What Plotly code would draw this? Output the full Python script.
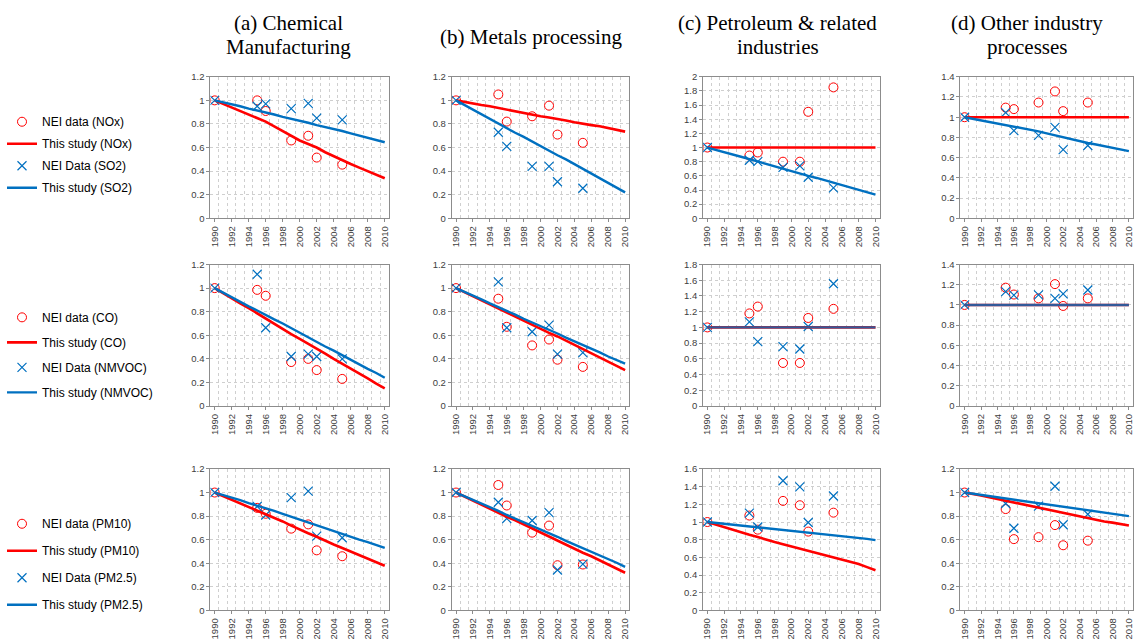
import plotly.graph_objects as go
from plotly.subplots import make_subplots

W, H = 1138, 644

years = list(range(1990, 2011))
nei_years = [1990, 1995, 1996, 1999, 2001, 2002, 2005]
tick_years = list(range(1990, 2011, 2))

col_titles = [["(a) Chemical", "Manufacturing"], ["(b) Metals processing"],
              ["(c) Petroleum & related", "industries"], ["(d) Other industry", "processes"]]

# Row 1: NOx (red) / SO2 (blue)
chem_nox_nei = [1.0, 1.0, 0.91, 0.66, 0.70, 0.515, 0.455]
chem_so2_nei = [1.0, 0.95, 0.97, 0.93, 0.975, 0.85, 0.835]
chem_nox_study = [1.0, 0.97, 0.94, 0.91, 0.88, 0.85, 0.82, 0.78, 0.74, 0.70, 0.66,
                  0.63, 0.60, 0.56, 0.525, 0.49, 0.46, 0.43, 0.40, 0.37, 0.34]
chem_so2_study = [1.0, 0.985, 0.97, 0.95, 0.93, 0.915, 0.90, 0.88, 0.86, 0.845, 0.83,
                  0.81, 0.79, 0.775, 0.76, 0.74, 0.72, 0.70, 0.685, 0.665, 0.645]

metal_nox_nei = [1.0, 1.05, 0.82, 0.865, 0.955, 0.71, 0.64]
metal_so2_nei = [1.0, 0.73, 0.61, 0.44, 0.44, 0.31, 0.255]
metal_nox_study = [1.0, 0.985, 0.97, 0.96, 0.95, 0.935, 0.92, 0.91, 0.895, 0.88, 0.865,
                   0.855, 0.845, 0.83, 0.815, 0.80, 0.79, 0.78, 0.765, 0.75, 0.735]
metal_so2_study = [1.0, 0.96, 0.92, 0.885, 0.845, 0.805, 0.765, 0.725, 0.69, 0.65, 0.61,
                   0.575, 0.535, 0.50, 0.46, 0.42, 0.385, 0.345, 0.305, 0.265, 0.22]

petro_nox_nei = [1.0, 0.887, 0.93, 0.80, 0.80, 1.505, 1.85]
petro_so2_nei = [1.0, 0.82, 0.80, 0.72, 0.74, 0.58, 0.43]
petro_nox_study = [1.0] * 21
petro_so2_study = [1.0, 0.97, 0.935, 0.90, 0.87, 0.835, 0.80, 0.77, 0.735, 0.70, 0.67,
                   0.635, 0.60, 0.57, 0.535, 0.50, 0.47, 0.435, 0.40, 0.37, 0.335]

other_nox_nei = [1.0, 1.095, 1.08, 1.145, 1.255, 1.06, 1.145]
other_so2_nei = [1.0, 1.045, 0.867, 0.82, 0.90, 0.68, 0.72]
other_nox_study = [1.0] * 21
other_so2_study = [1.0, 0.985, 0.97, 0.955, 0.94, 0.925, 0.91, 0.895, 0.875, 0.86, 0.84,
                   0.82, 0.80, 0.785, 0.765, 0.745, 0.73, 0.715, 0.695, 0.68, 0.665]

# Row 2: CO (red) / NMVOC (blue)
chem_co_nei = [1.0, 0.985, 0.935, 0.373, 0.40, 0.305, 0.23]
chem_voc_nei = [1.0, 1.117, 0.664, 0.42, 0.44, 0.42, 0.40]
chem_co_study = [1.0, 0.955, 0.91, 0.87, 0.83, 0.785, 0.745, 0.70, 0.655, 0.61, 0.57,
                 0.53, 0.49, 0.445, 0.40, 0.36, 0.315, 0.275, 0.235, 0.19, 0.15]
chem_voc_study = [1.0, 0.96, 0.92, 0.88, 0.845, 0.81, 0.77, 0.735, 0.70, 0.66, 0.62,
                  0.585, 0.545, 0.505, 0.47, 0.43, 0.39, 0.355, 0.315, 0.28, 0.24]

metal_co_nei = [1.0, 0.91, 0.672, 0.514, 0.564, 0.393, 0.332]
metal_voc_nei = [1.0, 1.053, 0.664, 0.63, 0.686, 0.44, 0.453]
metal_co_study = [1.0, 0.965, 0.93, 0.895, 0.86, 0.825, 0.79, 0.76, 0.725, 0.69, 0.655,
                  0.62, 0.59, 0.555, 0.52, 0.485, 0.45, 0.415, 0.38, 0.345, 0.305]
metal_voc_study = [1.0, 0.97, 0.935, 0.905, 0.87, 0.84, 0.805, 0.775, 0.74, 0.71, 0.675,
                   0.645, 0.615, 0.58, 0.55, 0.515, 0.485, 0.455, 0.42, 0.39, 0.36]

petro_co_nei = [1.0, 1.178, 1.265, 0.548, 0.548, 1.12, 1.236]
petro_voc_nei = [1.0, 1.07, 0.82, 0.755, 0.726, 1.012, 1.555]
petro_co_study = [1.0] * 21
petro_voc_study = [1.0] * 21

other_co_nei = [1.0, 1.171, 1.103, 1.065, 1.206, 0.99, 1.065]
other_voc_nei = [1.0, 1.132, 1.097, 1.10, 1.065, 1.11, 1.148]
other_co_study = [1.0] * 21
other_voc_study = [1.0] * 21

# Row 3: PM10 (red) / PM2.5 (blue)
chem_pm10_nei = [1.0, 0.87, 0.82, 0.694, 0.73, 0.51, 0.46]
chem_pm25_nei = [1.0, 0.882, 0.81, 0.957, 1.012, 0.63, 0.617]
chem_pm10_study = [1.0, 0.97, 0.94, 0.91, 0.88, 0.85, 0.82, 0.79, 0.755, 0.72, 0.685,
                   0.655, 0.625, 0.59, 0.56, 0.53, 0.50, 0.47, 0.44, 0.41, 0.38]
chem_pm25_study = [1.0, 0.98, 0.96, 0.935, 0.91, 0.89, 0.87, 0.845, 0.82, 0.795, 0.77,
                   0.745, 0.72, 0.695, 0.67, 0.65, 0.625, 0.60, 0.58, 0.555, 0.53]

metal_pm10_nei = [1.0, 1.064, 0.89, 0.66, 0.72, 0.384, 0.39]
metal_pm25_nei = [1.0, 0.918, 0.78, 0.763, 0.83, 0.343, 0.393]
metal_pm10_study = [1.0, 0.965, 0.93, 0.90, 0.865, 0.83, 0.795, 0.765, 0.73, 0.695, 0.66,
                    0.625, 0.595, 0.56, 0.525, 0.49, 0.46, 0.425, 0.39, 0.355, 0.32]
metal_pm25_study = [1.0, 0.97, 0.94, 0.905, 0.875, 0.845, 0.81, 0.78, 0.75, 0.72, 0.685,
                    0.655, 0.625, 0.59, 0.56, 0.53, 0.50, 0.465, 0.435, 0.405, 0.37]

petro_pm10_nei = [1.0, 1.073, 0.914, 1.239, 1.19, 0.892, 1.106]
petro_pm25_nei = [1.0, 1.10, 0.944, 1.467, 1.397, 0.995, 1.294]
petro_pm10_study = [1.0, 0.97, 0.94, 0.91, 0.88, 0.855, 0.83, 0.80, 0.775, 0.75, 0.725,
                    0.70, 0.675, 0.65, 0.625, 0.60, 0.575, 0.55, 0.525, 0.49, 0.455]
petro_pm25_study = [1.0, 0.99, 0.98, 0.97, 0.96, 0.95, 0.945, 0.935, 0.925, 0.915, 0.905,
                    0.895, 0.885, 0.875, 0.865, 0.855, 0.845, 0.835, 0.82, 0.81, 0.795]

other_pm10_nei = [1.0, 0.86, 0.605, 0.622, 0.724, 0.553, 0.592]
other_pm25_nei = [1.0, 0.907, 0.697, 0.885, 1.053, 0.727, 0.816]
other_pm10_study = [1.0, 0.99, 0.975, 0.96, 0.945, 0.93, 0.915, 0.90, 0.885, 0.87, 0.855,
                    0.84, 0.825, 0.81, 0.795, 0.78, 0.77, 0.755, 0.745, 0.73, 0.72]
other_pm25_study = [1.0, 0.99, 0.98, 0.97, 0.96, 0.95, 0.94, 0.93, 0.92, 0.91, 0.90,
                    0.89, 0.88, 0.87, 0.86, 0.85, 0.84, 0.83, 0.82, 0.81, 0.80]

legend_names = [
    ["NEI data (NOx)", "This study (NOx)", "NEI Data (SO2)", "This study (SO2)"],
    ["NEI data (CO)", "This study (CO)", "NEI Data (NMVOC)", "This study (NMVOC)"],
    ["NEI data (PM10)", "This study (PM10)", "NEI Data (PM2.5)", "This study (PM2.5)"],
]

panels = [
    [(chem_nox_nei, chem_nox_study, chem_so2_nei, chem_so2_study),
     (metal_nox_nei, metal_nox_study, metal_so2_nei, metal_so2_study),
     (petro_nox_nei, petro_nox_study, petro_so2_nei, petro_so2_study),
     (other_nox_nei, other_nox_study, other_so2_nei, other_so2_study)],
    [(chem_co_nei, chem_co_study, chem_voc_nei, chem_voc_study),
     (metal_co_nei, metal_co_study, metal_voc_nei, metal_voc_study),
     (petro_co_nei, petro_co_study, petro_voc_nei, petro_voc_study),
     (other_co_nei, other_co_study, other_voc_nei, other_voc_study)],
    [(chem_pm10_nei, chem_pm10_study, chem_pm25_nei, chem_pm25_study),
     (metal_pm10_nei, metal_pm10_study, metal_pm25_nei, metal_pm25_study),
     (petro_pm10_nei, petro_pm10_study, petro_pm25_nei, petro_pm25_study),
     (other_pm10_nei, other_pm10_study, other_pm25_nei, other_pm25_study)],
]

y_max = [[1.2, 1.2, 2.0, 1.4], [1.2, 1.2, 1.8, 1.4], [1.2, 1.2, 1.6, 1.2]]

RED = "#FF0000"
BLUE = "#0070C0"
GRID = "#CFCFCF"
AXIS = "#8C8C8C"
TXT = "#404040"

# blue line opacity per panel (overlapping flat lines look purplish in the reference)
blue_opacity = [[1, 1, 1, 1], [1, 1, 0.8, 0.8], [1, 1, 1, 1]]

# pixel layout of plot areas
col_px = [(209, 388), (451, 629), (703, 880), (961, 1134)]
row_px = [(72, 216), (263, 407), (471, 615)]


def fx(x):
    return x / W


def fy(y):
    return 1 - y / H


fig = make_subplots(rows=3, cols=4)
legend_keys = ["legend", "legend2", "legend3"]

for r in range(3):
    for c in range(4):
        nei_r, st_r, nei_b, st_b = panels[r][c]
        show = (c == 0)
        lg = legend_keys[r]
        names = legend_names[r]
        fig.add_trace(go.Scatter(x=nei_years, y=nei_r, mode="markers", name=names[0],
                                 marker=dict(symbol="circle-open", size=9, color=RED,
                                             line=dict(width=1, color=RED)),
                                 showlegend=show, legend=lg, legendgroup=f"{r}a",
                                 legendrank=1), row=r + 1, col=c + 1)
        fig.add_trace(go.Scatter(x=nei_years, y=nei_b, mode="markers", name=names[2],
                                 marker=dict(symbol="x-thin-open", size=9, color=BLUE,
                                             line=dict(width=1.2, color=BLUE)),
                                 showlegend=show, legend=lg, legendgroup=f"{r}c",
                                 legendrank=3), row=r + 1, col=c + 1)
        fig.add_trace(go.Scatter(x=years, y=st_r, mode="lines", name=names[1],
                                 line=dict(color=RED, width=2.6),
                                 showlegend=show, legend=lg, legendgroup=f"{r}b",
                                 legendrank=2), row=r + 1, col=c + 1)
        fig.add_trace(go.Scatter(x=years, y=st_b, mode="lines", name=names[3],
                                 line=dict(color=BLUE, width=2.4),
                                 opacity=blue_opacity[r][c],
                                 showlegend=show, legend=lg, legendgroup=f"{r}d",
                                 legendrank=4), row=r + 1, col=c + 1)

        idx = r * 4 + c + 1
        xa = "xaxis" if idx == 1 else f"xaxis{idx}"
        ya = "yaxis" if idx == 1 else f"yaxis{idx}"
        x0, x1 = col_px[c]
        t, b = row_px[r]
        fig.layout[xa].update(
            domain=[fx(x0), min(fx(x1), 1.0)],
            range=[1989.5, 2010.5],
            tickmode="array", tickvals=tick_years, ticktext=[str(y) for y in tick_years],
            tickangle=-90, tickfont=dict(size=9.5, color=TXT, family="Liberation Sans"),
            showgrid=False, zeroline=False,
            showline=True, mirror=True, linecolor=AXIS, linewidth=1,
            ticks="outside", ticklen=3, tickcolor=AXIS,
            minor=dict(tickmode="linear", tick0=1990.5, dtick=1, showgrid=True,
                       gridcolor=GRID, griddash="3px,3px", gridwidth=1),
            fixedrange=True,
        )
        fig.layout[ya].update(
            domain=[fy(b), fy(t)],
            range=[0, y_max[r][c]], dtick=0.2, tick0=0,
            tickfont=dict(size=9.5, color=TXT, family="Liberation Sans"),
            showgrid=True, gridcolor=GRID, griddash="3px,3px", gridwidth=1,
            zeroline=False, showline=True, mirror=True, linecolor=AXIS, linewidth=1,
            ticks="outside", ticklen=3, tickcolor=AXIS,
            fixedrange=True,
        )

title_x = [287, 530, 778, 1028]
title_line_y = [[17, 42], [32], [17, 42], [17, 42]]
for i, lines in enumerate(col_titles):
    for j, txt in enumerate(lines):
        fig.add_annotation(text=txt, x=fx(title_x[i]), y=fy(title_line_y[i][j]),
                           xref="paper", yref="paper", showarrow=False,
                           xanchor="center", yanchor="middle",
                           font=dict(family="Liberation Serif", size=21, color="black"))

leg_common = dict(x=0.0, xanchor="left", yanchor="top", bgcolor="rgba(0,0,0,0)",
                  font=dict(family="Liberation Sans", size=12, color="black"),
                  traceorder="grouped", itemwidth=30)
fig.update_layout(
    width=W, height=H,
    margin=dict(l=0, r=0, t=0, b=0),
    paper_bgcolor="white", plot_bgcolor="white",
    legend=dict(y=fy(103), tracegroupgap=3, **leg_common),
    legend2=dict(y=fy(302), tracegroupgap=6, **leg_common),
    legend3=dict(y=fy(512), tracegroupgap=8, **leg_common),
)

fig.write_html("out.html", config={"displayModeBar": False},
               post_script="document.body.style.margin='0px';")
